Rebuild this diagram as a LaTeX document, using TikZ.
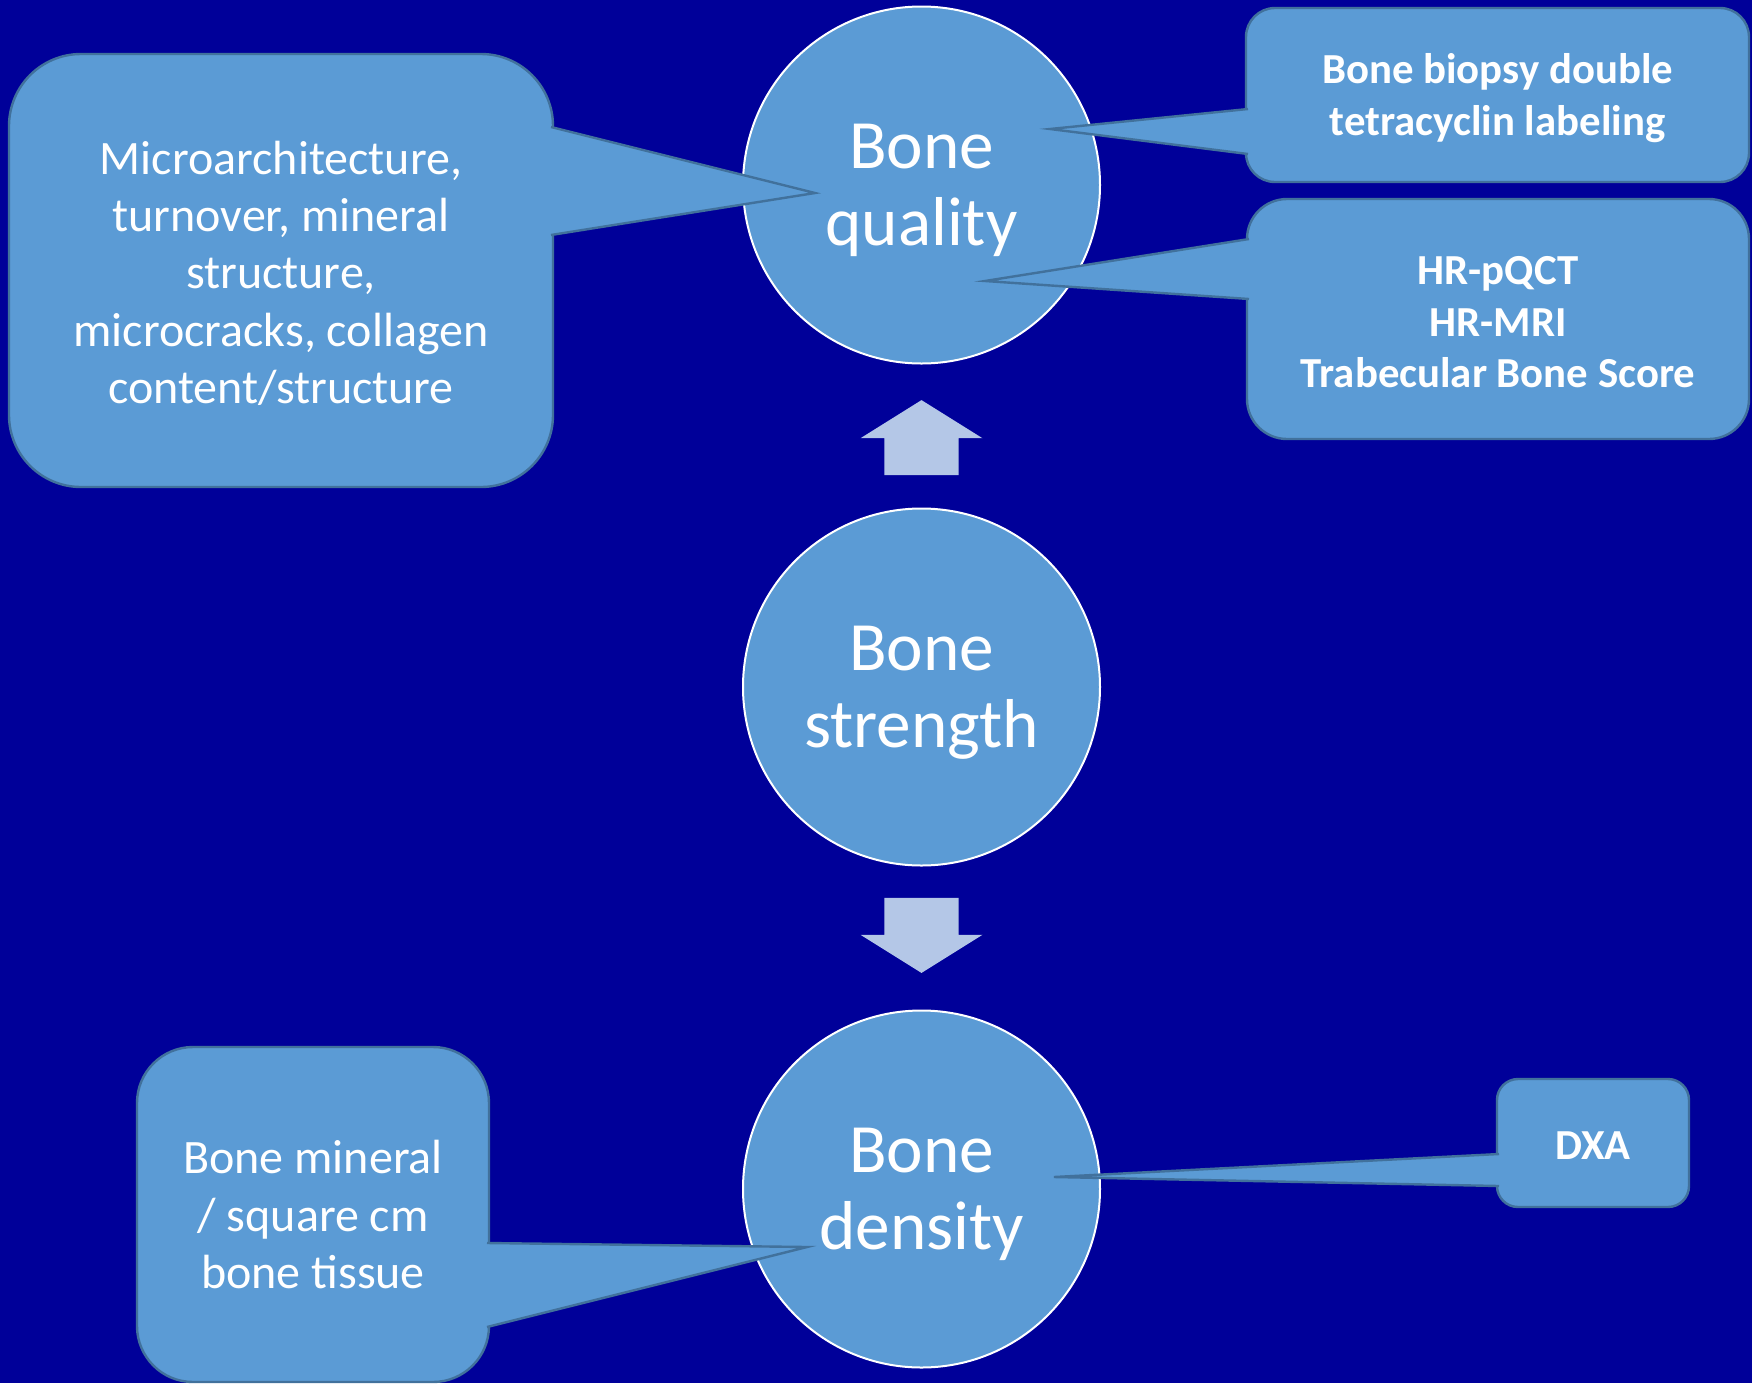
\documentclass[tikz,border=0pt]{standalone}
\usepackage{fontspec}
\setmainfont{Carlito}
\usetikzlibrary{positioning, calc, shapes.arrows}
\definecolor{slidebg}{HTML}{000099}
\definecolor{bonefill}{HTML}{5B9BD5}
\definecolor{boneline}{HTML}{41719C}
\definecolor{arrowfill}{HTML}{B4C7E7}
\newcommand\toppad[1]{\rule{0pt}{\dimexpr\fontcharht\font`\h+#1\relax}}
\tikzset{
  bubble/.style={circle, draw=white, fill=bonefill, line width=1pt, minimum size=178.5pt, inner sep=0pt,
    align=center, text=white, font=\fontsize{34.6pt}{38.6pt}\selectfont},
  callbox/.style={draw=boneline, fill=bonefill, line width=1.2pt, inner sep=0pt, outer sep=0pt,
    align=center, text=white, font=\fontsize{24pt}{28.65pt}\selectfont},
  callboxb/.style={callbox, font=\fontsize{21.4pt}{25.7pt}\selectfont\bfseries},
  tail/.style={draw=boneline, fill=bonefill, line width=1.2pt},
  bigarrow/.style={single arrow, fill=arrowfill, minimum height=37.5pt, minimum width=60.5pt,
    text height=18.4pt, text depth=18.4pt, text width=0pt, anchor=tail,
    single arrow head extend=11.9pt, single arrow tip angle=116, inner sep=0pt}
}
\begin{document}
\begin{tikzpicture}[x=0.5pt, y=-0.5pt, node distance=71.5pt]
\fill[slidebg] (0,0) rectangle (1752,1383);
\useasboundingbox (0,0) rectangle (1752,1383);
% the three circles
\node[bubble] (strength) at (921.5,687) {\rule{0pt}{27.6pt}Bone\\strength};
\node[bubble, above=of strength] (quality) {\rule{0pt}{27.6pt}Bone\\quality};
\node[bubble, below=of strength] (density) {\rule{0pt}{27.6pt}Bone\\density};
\node[bigarrow, rotate=90] (up) at ($(strength.north)+(0,-32)$) {};
\node[bigarrow, rotate=-90] (down) at ($(strength.south)+(0,31)$) {};
% callouts
\node[callbox, minimum width=272pt, minimum height=216.5pt, rounded corners=36pt] (micro) at (281,270.5)
  {\toppad{2.8pt}Microarchitecture,\\turnover, mineral\\structure,\\microcracks, collagen\\content/structure};
\node[callboxb, minimum width=251.5pt, minimum height=87pt, rounded corners=14.5pt] (biopsy) at (1497.5,95)
  {\fontsize{21.4pt}{21.7pt}\selectfont\rule{0pt}{18.2pt}Bone biopsy double\\tetracyclin labeling};
\node[callboxb, minimum width=251pt, minimum height=120pt, rounded corners=20pt] (imaging) at (1498,319)
  {\toppad{2.2pt}HR-pQCT\\HR-MRI\\Trabecular Bone Score};
\node[callbox, minimum width=176pt, minimum height=167.5pt, rounded corners=28pt] (bmd) at (313,1214.5)
  {Bone mineral\\/ square cm\\bone tissue};
\node[callboxb, minimum width=96pt, minimum height=64pt, rounded corners=10.5pt] (dxa) at (1593,1143)
  {\rule{0pt}{\dimexpr\fontcharht\font`\D+2.2pt\relax}DXA};
\coordinate (microtip) at (815,193);
\coordinate (biopsytip) at (1050,129);
\coordinate (imagingtip) at (985,281);
\coordinate (bmdtip) at (807,1247);
\coordinate (dxatip) at (1054,1177);
\filldraw[tail] ($(micro.north east)+(-2,73)$) -- (microtip) -- ($(micro.north east)+(-2,181)$);
\filldraw[tail] ($(biopsy.north west)+(2,101)$) -- (biopsytip) -- ($(biopsy.north west)+(2,146)$);
\filldraw[tail] ($(imaging.north west)+(2,40)$) -- (imagingtip) -- ($(imaging.north west)+(2,100)$);
\filldraw[tail] ($(bmd.north east)+(-2,196)$) -- (bmdtip) -- ($(bmd.north east)+(-2,280)$);
\filldraw[tail] ($(dxa.north west)+(2,75)$) -- (dxatip) -- ($(dxa.north west)+(2,107)$);
\end{tikzpicture}
\end{document}
